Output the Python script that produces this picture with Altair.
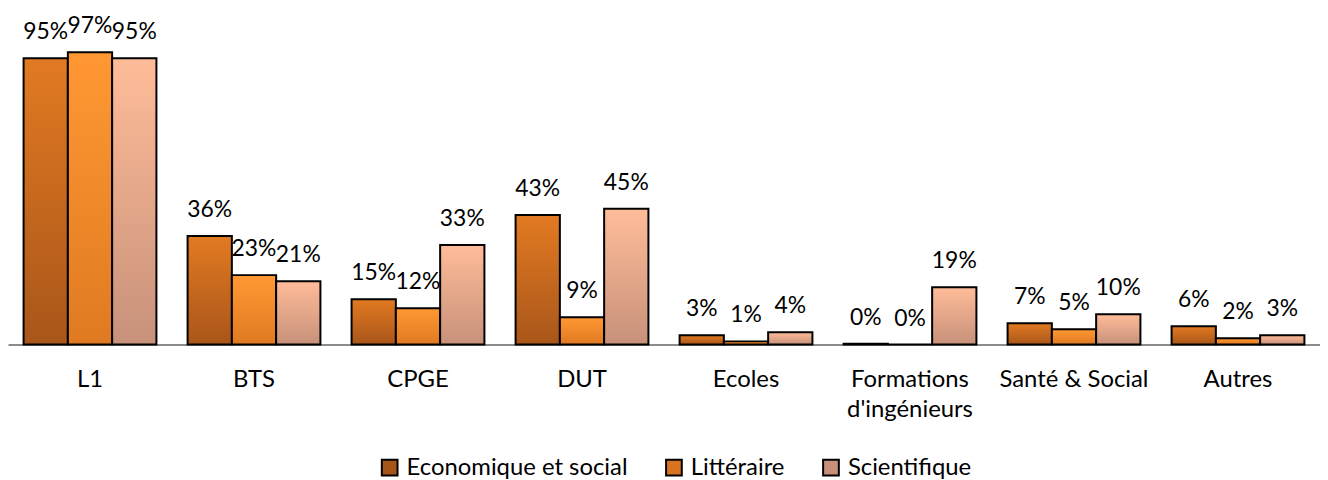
import altair as alt
import pandas as pd

categories = ["L1", "BTS", "CPGE", "DUT", "Ecoles", "Formations d'ingénieurs", "Santé & Social", "Autres"]
series = ["Economique et social", "Littéraire", "Scientifique"]
econ = [0.95, 0.36, 0.15, 0.43, 0.03, 0.002, 0.07, 0.06]
litt = [0.97, 0.23, 0.12, 0.09, 0.01, 0.0, 0.05, 0.02]
sci = [0.95, 0.21, 0.33, 0.45, 0.04, 0.19, 0.10, 0.03]

legend_colors = ["#A5541A", "#D9731F", "#C8907A"]
gradients = [("#E27A22", "#A9561A"), ("#FF9833", "#E07A22"), ("#FFBC99", "#C7917A")]

rows = []
for s, vals in zip(series, [econ, litt, sci]):
    for c, v in zip(categories, vals):
        rows.append({"cat": c, "series": s, "value": v})
df = pd.DataFrame(rows)

FONT = "Lato"

x_enc = alt.X("cat:N", sort=categories, title=None,
              scale=alt.Scale(paddingInner=0.19, paddingOuter=0.095),
              axis=alt.Axis(labelFontSize=24, labelFont=FONT, labelColor="black",
                            labelAngle=0, labelPadding=23, ticks=False,
                            domainColor="#8c8c8c", domainWidth=2, labelLineHeight=31,
                            labelExpr="datum.label == \"Formations d'ingénieurs\" ? ['Formations', \"d'ingénieurs\"] : datum.label"))
y_enc = alt.Y("value:Q", scale=alt.Scale(domain=[0, 1], nice=False), axis=None)
xo_enc = alt.XOffset("series:N", sort=series, scale=alt.Scale(domain=series, paddingInner=0))
color_enc = alt.Color("series:N", sort=series,
                      scale=alt.Scale(domain=series, range=legend_colors),
                      legend=alt.Legend(title=None, orient="none", direction="horizontal",
                                        legendX=372, legendY=415,
                                        labelFontSize=24, labelFont=FONT, labelColor="black",
                                        labelLimit=0,
                                        symbolType="square", symbolSize=250,
                                        symbolStrokeColor="black", symbolStrokeWidth=2,
                                        symbolOpacity=1, columnPadding=34, labelOffset=5))

layers = []
for s, (top, bot) in zip(series, gradients):
    grad = alt.Gradient(gradient="linear", x1=0, y1=0, x2=0, y2=1,
                        stops=[alt.GradientStop(color=top, offset=0),
                               alt.GradientStop(color=bot, offset=1)])
    layers.append(
        alt.Chart(df).transform_filter(alt.datum.series == s)
        .mark_bar(fill=grad, stroke="black", strokeWidth=2)
        .encode(x=x_enc, xOffset=xo_enc, y=y_enc, color=color_enc)
    )

labels = alt.Chart(df).mark_text(font=FONT, fontSize=23, color="black",
                                 baseline="middle", dy=-26).encode(
    x=x_enc, xOffset=xo_enc, y=y_enc, text=alt.Text("value:Q", format=".0%"))

chart = alt.layer(*layers, labels).properties(
    width=1320, height=303,
    autosize=alt.AutoSizeParams(type="none"),
    padding={"left": 0, "top": 34, "right": 0, "bottom": 135},
).configure_view(stroke=None).configure_axis(grid=False)

chart.save("out.html", embed_options={"renderer": "svg", "actions": False})
